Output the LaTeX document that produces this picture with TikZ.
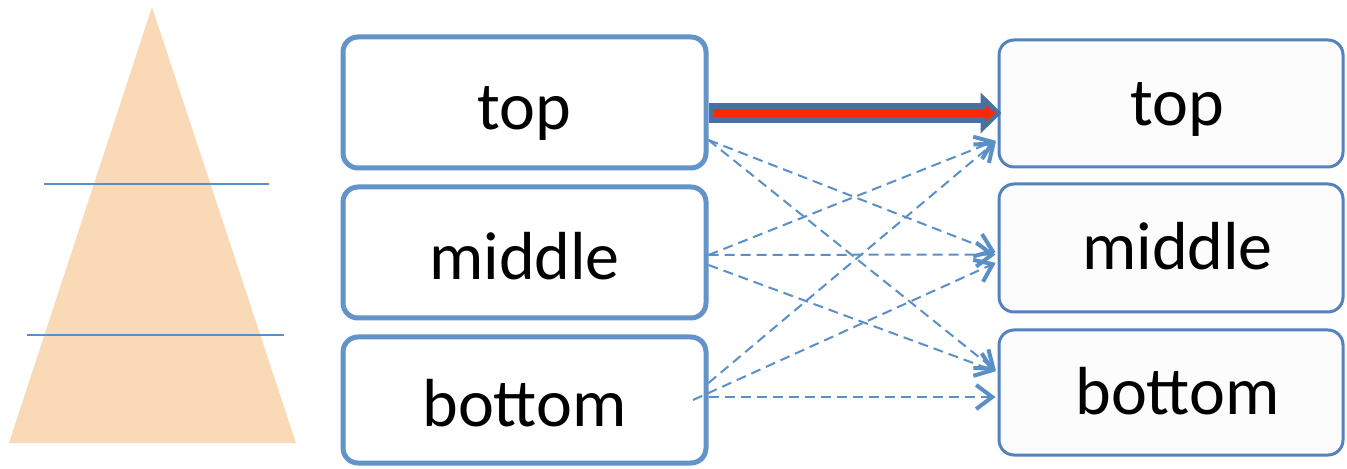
\documentclass[tikz,border=0pt]{standalone}
\usepackage{fontspec}
\setmainfont{Carlito}
\usetikzlibrary{arrows.meta}
\definecolor{azul}{RGB}{98,148,202}
\definecolor{azuld}{RGB}{84,130,190}
\definecolor{seta}{RGB}{91,143,199}
\definecolor{setagrossa}{RGB}{70,113,160}
\definecolor{vermelho}{RGB}{255,40,0}
\definecolor{pele}{RGB}{250,217,183}
\begin{document}
\begin{tikzpicture}[x=0.5pt,y=-0.5pt,
    caixa/.style={draw=azul,line width=2.5pt,rounded corners=7.5pt,inner sep=0pt,
      minimum width=181.5pt,text height=27pt,text depth=0pt,font=\fontsize{34}{40}\selectfont},
    caixadir/.style={draw=azuld,fill=black!1,line width=1.5pt,rounded corners=7.5pt,inner sep=0pt,
      minimum width=172pt,text height=22pt,text depth=0pt,font=\fontsize{34}{40}\selectfont,
      execute at begin node=\hspace*{6.5pt}},
    linha/.style={draw=seta,line width=1pt},
    tracejada/.style={draw=seta,line width=1pt,dash pattern=on 5pt off 3pt,shorten >=1pt,
      -{Straight Barb[length=8pt,width=12pt,line width=2pt]}}]
  \useasboundingbox (0,0) rectangle (1347,469);
  % piramide com as duas divisoes
  \fill[pele] (152,7) -- (296,443) -- (9,443) -- cycle;
  \draw[linha] (44,184) -- (269,184);     % corte superior
  \draw[linha] (27,335) -- (284,335);     % corte inferior
  % caixas da esquerda
  \node[caixa,minimum height=65.5pt] (et) at (524.5,102.5) {top};
  \node[caixa,minimum height=65.5pt] (em) at (524.5,252.5) {middle};
  \node[caixa,minimum height=63pt]   (eb) at (524.5,400)   {bottom};
  % caixas da direita
  \node[caixadir,minimum height=63.5pt] (dt) at (1171,103.5) {top};
  \node[caixadir,minimum height=64pt]   (dm) at (1171,248)   {middle};
  \node[caixadir,minimum height=62.5pt] (db) at (1171,392.5) {bottom};
  % seta grossa top -> top
  \draw[setagrossa,line width=10pt,shorten >=-2pt,-{Triangle[length=10.5pt,width=20pt]}]
    ([yshift=-5.25pt]et.east) -- ([yshift=-5.25pt]et.east -| dt.west);
  \draw[vermelho,line width=4pt,shorten <=2.5pt,shorten >=1pt,-{Triangle[length=5pt,width=8pt]}]
    ([yshift=-5.25pt]et.east) -- ([yshift=-5.25pt]et.east -| dt.west);
  % setas tracejadas
  \draw[tracejada] ([yshift=-18.75pt]et.east) -- ([yshift=-2.5pt]dm.west);
  \draw[tracejada] ([yshift=-18.75pt]et.east) -- ([yshift=10.25pt]db.west);
  \draw[tracejada] ([yshift=-1.25pt]em.east) -- ([yshift=-18.25pt]dt.west);
  \draw[tracejada] ([yshift=-1.25pt]em.east) -- ([yshift=-3.25pt]dm.west);
  \draw[tracejada] ([yshift=-6.25pt]em.east) -- ([yshift=10.25pt]db.west);
  \draw[tracejada] ([yshift=8.5pt]eb.east) -- ([yshift=-18.25pt]dt.west);
  \draw[tracejada] ([xshift=-7.75pt]eb.east) -- ([yshift=-7pt]dm.west);
  \draw[tracejada] ([yshift=1.5pt]eb.east) -- ([yshift=-2.25pt]db.west);
\end{tikzpicture}
\end{document}
